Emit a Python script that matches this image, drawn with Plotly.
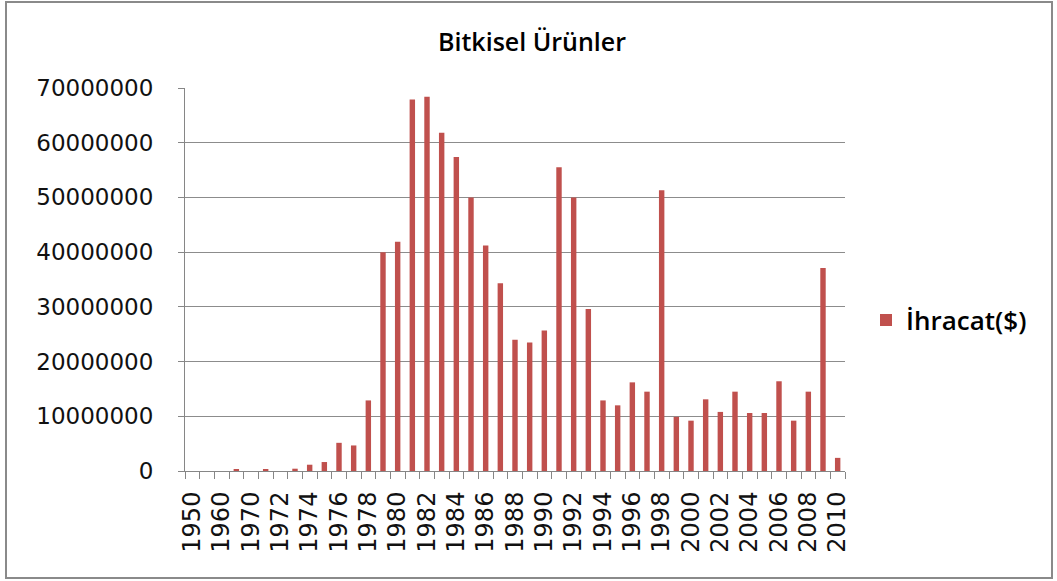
import plotly.graph_objects as go

categories = ["1950", "1955", "1960", "1965", "1970", "1971", "1972", "1973", "1974", "1975",
              "1976", "1977", "1978", "1979", "1980", "1981", "1982", "1983", "1984", "1985",
              "1986", "1987", "1988", "1989", "1990", "1991", "1992", "1993", "1994", "1995",
              "1996", "1997", "1998", "1999", "2000", "2001", "2002", "2003", "2004", "2005",
              "2006", "2007", "2008", "2009", "2010"]
ihracat = [0, 0, 0, 240000, 0, 240000, 0, 420000, 1150000, 1640000,
           5150000, 4670000, 12900000, 40000000, 41900000, 67900000, 68400000, 61800000, 57400000, 50000000,
           41200000, 34300000, 24000000, 23500000, 25700000, 55500000, 50000000, 29600000, 12900000, 12000000,
           16200000, 14500000, 51300000, 9900000, 9200000, 13100000, 10800000, 14500000, 10600000, 10600000,
           16400000, 9200000, 14500000, 37100000, 2400000]
tick_labels = ["1950", "", "1960", "", "1970", "", "1972", "", "1974", "",
               "1976", "", "1978", "", "1980", "", "1982", "", "1984", "",
               "1986", "", "1988", "", "1990", "", "1992", "", "1994", "",
               "1996", "", "1998", "", "2000", "", "2002", "", "2004", "",
               "2006", "", "2008", "", "2010"]
y_ticks = [0, 10000000, 20000000, 30000000, 40000000, 50000000, 60000000, 70000000]
title_text = "Bitkisel Ürünler"
series_name = "İhracat($)"

W, H = 1057, 581
L, R, T, B = 185, 212, 88, 110
pw, ph = W - L - R, H - T - B

fig = go.Figure()
fig.add_trace(go.Bar(x=categories, y=ihracat, name=series_name,
                     marker=dict(color="#C0504D", line=dict(width=0))))

def px_x(p):
    return (p - L) / pw

def px_y(p):
    return (H - B - p) / ph

fig.update_layout(
    width=W, height=H,
    margin=dict(l=L, r=R, t=T, b=B, autoexpand=False),
    paper_bgcolor="white", plot_bgcolor="white",
    bargap=0.63,
    showlegend=True,
    title=dict(text=title_text, x=(L + 347) / W, xanchor="center", y=1 - 42 / H, yanchor="middle",
               font=dict(family="Open Sans", size=25, color="#000000", weight=600)),
    legend=dict(x=px_x(866), y=px_y(320), xanchor="left", yanchor="middle",
                font=dict(family="Open Sans", size=26, color="#000000", weight=600),
                bgcolor="rgba(0,0,0,0)", itemwidth=30),
    font=dict(family="DejaVu Sans", size=23, color="#111111"),
)
fig.update_xaxes(type="category", tickvals=categories, ticktext=tick_labels,
                 tickangle=-90, tickson="boundaries", ticks="outside", ticklen=7,
                 tickcolor="#868686", showline=True, linecolor="#868686", linewidth=1,
                 showgrid=False, ticklabelstandoff=10,
                 tickfont=dict(family="DejaVu Sans", size=24, color="#111111"))
fig.update_yaxes(range=[0, 70000000], tickvals=y_ticks, ticktext=[str(v) for v in y_ticks],
                 ticks="outside", ticklen=6, tickcolor="#868686",
                 showline=True, linecolor="#868686", linewidth=1,
                 showgrid=True, gridcolor="#8c8c8c", gridwidth=1, zeroline=False,
                 ticklabelstandoff=20,
                 tickfont=dict(family="DejaVu Sans", size=23, color="#111111"))

fig.add_shape(type="rect", xref="paper", yref="paper",
              x0=px_x(6), x1=px_x(1052), y0=px_y(578), y1=px_y(2),
              line=dict(color="#8a8a8a", width=2), fillcolor="rgba(0,0,0,0)", layer="below")

fig.write_html("out.html", config={"displayModeBar": False},
               post_script="document.body.style.margin='0';")
